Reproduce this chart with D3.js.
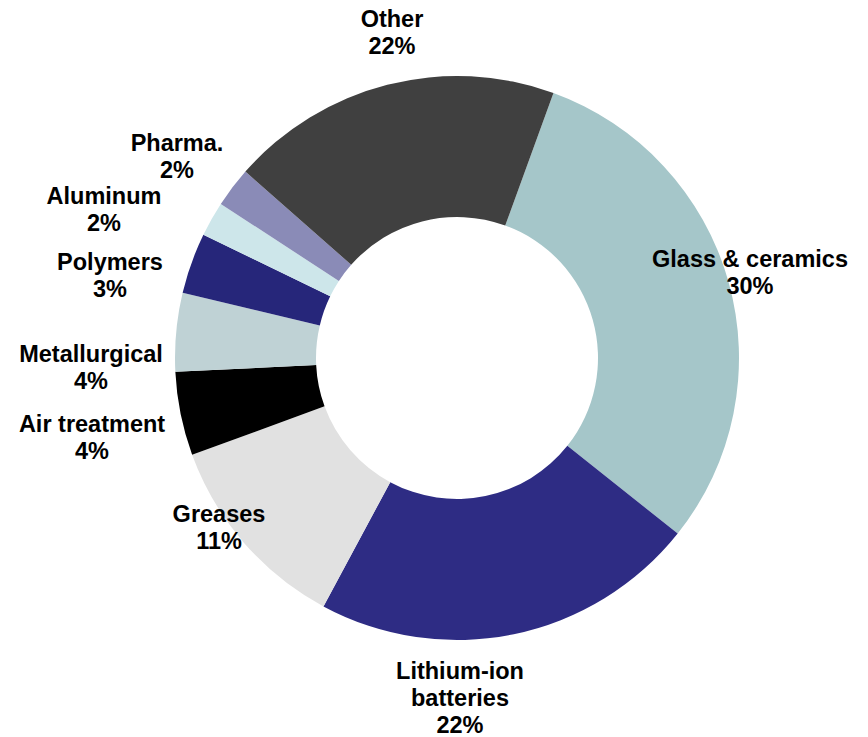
<!DOCTYPE html>
<html lang="en">
<head>
<meta charset="utf-8">
<title>Lithium end uses</title>
<style>
body {
  margin: 0;
  background: #fff;
}

text {
  font-family: Arial, "Liberation Sans", sans-serif;
  font-size: 23.5px;
  font-weight: bold;
  fill: #000;
}
</style>
</head>
<body>
<div id="chart"></div>
<script src="https://d3js.org/d3.v7.min.js"></script>
<script>

// slices, clockwise from the top-right
const categories = ["Glass & ceramics", "Lithium-ion batteries", "Greases", "Air treatment",
  "Metallurgical", "Polymers", "Aluminum", "Pharma.", "Other"];
const shares = [30.2, 22.2, 11.6, 4.8, 4.5, 3.5, 2.0, 2.3, 19.1];
const pctLabels = ["30%", "22%", "11%", "4%", "4%", "3%", "2%", "2%", "22%"];
const colors = ["#a5c6c9", "#2e2c84", "#e1e1e1", "#000000", "#bfd2d5",
  "#26267a", "#cde6ea", "#8a8bb7", "#404040"];

const width = 868,
    height = 737,
    cx = 457,
    cy = 358,
    outer = 282,
    inner = 141,
    lineH = 27;

// where each label block sits (centre x, first baseline y), relative to the pie centre
const labelAt = {
  "Glass & ceramics": [293, -91],
  "Lithium-ion batteries": [3, 321],
  "Greases": [-238, 164],
  "Air treatment": [-365, 74],
  "Metallurgical": [-366, 4],
  "Polymers": [-347, -88],
  "Aluminum": [-353, -154],
  "Pharma.": [-280, -207],
  "Other": [-65, -331]
};

// split long names the way the reference does
const nameLines = {
  "Lithium-ion batteries": ["Lithium-ion", "batteries"]
};

const data = categories.map((c, i) => ({ name: c, value: shares[i], pct: pctLabels[i], color: colors[i] }));

const svg = d3.select("#chart")
  .append("svg")
    .attr("width", width)
    .attr("height", height)
    .attr("viewBox", [0, 0, width, height]);

const pie = d3.pie()
    .sort(null)
    .value(d => d.value)
    .startAngle(20 * Math.PI / 180)
    .endAngle(380 * Math.PI / 180);

const arc = d3.arc()
    .innerRadius(inner)
    .outerRadius(outer);

const g = svg.append("g")
    .attr("transform", "translate(" + cx + "," + cy + ")");

g.selectAll("path")
  .data(pie(data))
  .enter().append("path")
    .attr("d", arc)
    .attr("fill", d => d.data.color);

const labels = g.selectAll("text.label")
  .data(data)
  .enter().append("text")
    .attr("class", "label")
    .attr("text-anchor", "middle")
    .attr("transform", d => "translate(" + labelAt[d.name][0] + "," + labelAt[d.name][1] + ")");

labels.each(function(d) {
  const lines = (nameLines[d.name] || [d.name]).concat([d.pct]);
  d3.select(this).selectAll("tspan")
    .data(lines)
    .enter().append("tspan")
      .attr("x", 0)
      .attr("y", (l, i) => i * lineH)
      .text(l => l);
});

</script>
</body>
</html>
